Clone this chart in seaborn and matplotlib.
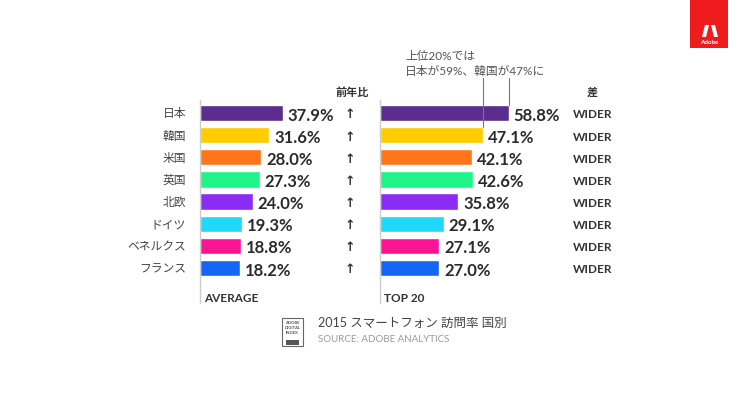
import matplotlib
matplotlib.use("Agg")
import matplotlib.pyplot as plt
import seaborn as sns
import pandas as pd
from matplotlib.patches import Rectangle, Polygon

sns.set_theme(style="white")
plt.rcParams['font.family'] = ['Lato', 'Noto Sans CJK JP', 'DejaVu Sans']

# data
countries = ["日本", "韓国", "米国", "英国", "北欧", "ドイツ", "ベネルクス", "フランス"]
average = [37.9, 31.6, 28.0, 27.3, 24.0, 19.3, 18.8, 18.2]
top20 = [58.8, 47.1, 42.1, 42.6, 35.8, 29.1, 27.1, 27.0]
yoy = ["↑"] * 8
diff = ["WIDER"] * 8
colors = ["#5c2d8e", "#ffcc00", "#ff7519", "#1ef48a", "#8b2cf5",
          "#1fd8fa", "#fb1595", "#1566f5"]

df = pd.DataFrame({"country": countries, "average": average, "top20": top20})

W, H = 750, 393
fig = plt.figure(figsize=(7.5, 3.93), dpi=100)

PX = 2.19  # pixels per percent
y_top, y_bot = 100, 303
row0, step = 113, 22.14


def add_ax(x0, width):
    ax = fig.add_axes([x0 / W, (H - y_bot) / H, width / W, (y_bot - y_top) / H])
    ax.set_xlim(0, width / PX)
    ax.set_ylim((y_bot - row0) / step, (y_top - row0) / step)
    return ax


ax1 = add_ax(200, 140)
ax2 = add_ax(380, 200)

for ax, col in [(ax1, "average"), (ax2, "top20")]:
    sns.barplot(data=df, x=col, y="country", hue="country", palette=colors,
                saturation=1, legend=False, width=0.74, ax=ax, orient="h")
    ax.set_ylim((y_bot - row0) / step, (y_top - row0) / step)
    for s in ["top", "right", "bottom"]:
        ax.spines[s].set_visible(False)
    ax.spines["left"].set_color("#cccccc")
    ax.spines["left"].set_linewidth(1)
    ax.set_xlabel("")
    ax.set_ylabel("")
    ax.set_xticks([])
    ax.patch.set_alpha(0)
    for i, v in enumerate(df[col]):
        ax.text(v + 2.2, i + 0.12, f"{v:.1f}%", va="center", ha="left",
                fontsize=12, fontweight="bold", color="#2b2b2b")

ax1.tick_params(axis="y", length=0, pad=10, labelsize=8.5, labelcolor="#444444")
ax2.set_yticks([])
ax1.text(2, 8.4, "AVERAGE", fontsize=8.5, fontweight="bold", color="#333333",
         va="center", ha="left")
ax2.text(2, 8.4, "TOP 20", fontsize=8.5, fontweight="bold", color="#333333",
         va="center", ha="left")

# year-on-year arrows and difference column
for i in range(len(countries)):
    yp = row0 + step * i + 2
    fig.text(350 / W, 1 - yp / H, yoy[i], ha="center", va="center",
             fontsize=9, fontweight="bold", color="#333333",
             family=['DejaVu Sans'])
    fig.text(573 / W, 1 - yp / H, diff[i], ha="left", va="center",
             fontsize=8.5, fontweight="bold", color="#333333")

fig.text(352 / W, 1 - 92 / H, "前年比", ha="center", va="center", fontsize=8,
         fontweight="bold", color="#333333", family=['Noto Sans CJK JP'])
fig.text(592 / W, 1 - 92 / H, "差", ha="center", va="center", fontsize=8,
         fontweight="bold", color="#333333", family=['Noto Sans CJK JP'])

# annotation
fig.text(405 / W, 1 - 56 / H, "上位20%では", ha="left", va="center",
         fontsize=8.5, color="#555555")
fig.text(405 / W, 1 - 72 / H, "日本が59%、韓国が47%に", ha="left", va="center",
         fontsize=8.5, color="#555555")
ax2.plot([top20[1], top20[1]], [1 - 0.37, (78 - row0) / step],
         color="#777777", lw=0.8, clip_on=False)
ax2.plot([top20[0], top20[0]], [0 - 0.37, (78 - row0) / step],
         color="#777777", lw=0.8, clip_on=False)

# footer
fig.patches.append(Rectangle((282 / W, 1 - 346 / H), 21 / W, 28 / H,
                             transform=fig.transFigure, fill=False,
                             ec="#666666", lw=0.8))
fig.patches.append(Rectangle((286 / W, 1 - 345 / H), 13 / W, 5 / H,
                             transform=fig.transFigure, fc="#555555", ec="none"))
for k, t in enumerate(["ADOBE", "DIGITAL", "INDEX"]):
    fig.text(292.5 / W, 1 - (323 + 5 * k) / H, t, ha="center", va="center",
             fontsize=3, fontweight="bold", color="#555555")
fig.text(318 / W, 1 - 323 / H, "2015 スマートフォン 訪問率 国別", ha="left",
         va="center", fontsize=9, color="#444444")
fig.text(318 / W, 1 - 340 / H, "SOURCE: ADOBE ANALYTICS", ha="left",
         va="center", fontsize=7, color="#999999")

# adobe logo
fig.patches.append(Rectangle((690 / W, 1 - 48 / H), 38 / W, 48 / H,
                             transform=fig.transFigure, fc="#ee1c1c", ec="none"))
fig.patches.append(Polygon([(705 / W, 1 - 25 / H), (709 / W, 1 - 25 / H),
                            (706 / W, 1 - 37 / H), (702 / W, 1 - 37 / H)],
                           transform=fig.transFigure, fc="white", ec="none"))
fig.patches.append(Polygon([(711 / W, 1 - 25 / H), (715 / W, 1 - 25 / H),
                            (718 / W, 1 - 37 / H), (714 / W, 1 - 37 / H)],
                           transform=fig.transFigure, fc="white", ec="none"))
fig.text(709 / W, 1 - 42 / H, "Adobe", ha="center", va="center", fontsize=4.5,
         fontweight="bold", color="white")

fig.savefig("out.png", dpi=100)
